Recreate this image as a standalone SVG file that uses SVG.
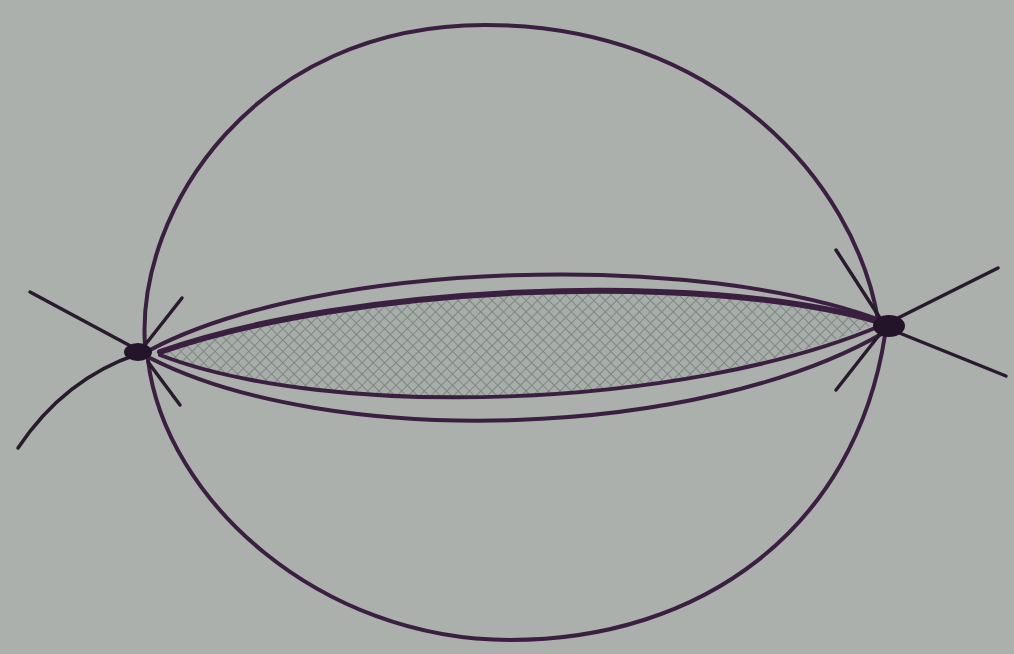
<svg xmlns="http://www.w3.org/2000/svg" width="1014" height="654" viewBox="0 0 1014 654">
<defs>
<pattern id="hatch" width="8" height="8" patternUnits="userSpaceOnUse" patternTransform="rotate(45)">
<rect width="8" height="8" fill="#a7ada9"/>
<path d="M0,0H8M0,0V8" stroke="#7f8783" stroke-width="2"/>
</pattern>
<style>
.l{fill:none;stroke:#3b1f40;stroke-width:4;stroke-linecap:round}
.r{fill:none;stroke:#2a1a2e;stroke-width:3.5;stroke-linecap:round}
</style>
</defs>
<rect width="1014" height="654" fill="#abb0ac"/>
<g id="connectors">
<path class="l" d="M145,345 C136,210 255,25 485,25 C715,25 855,180 878,320"/>
<path class="l" d="M148,360 C165,500 320,640 510,640 C700,640 855,530 885,335"/>
<path class="l" d="M150,350 C320,260 700,250 885,322"/>
<path class="l" d="M150,358 C330,450 700,440 885,332"/>
<path d="M160,352 C350,285 700,270 880,322 C680,410 330,420 160,355 Z" fill="url(#hatch)" stroke="none"/>
<path class="l" style="stroke-width:6" d="M160,352 C350,285 700,270 880,322"/>
<path class="l" d="M160,355 C330,420 680,410 880,326"/>
</g>
<g id="left-pole">
<path class="r" d="M138,350 L30,292"/>
<path class="r" d="M138,354 C90,370 50,400 18,448"/>
<path class="r" d="M145,345 L182,298"/>
<path class="r" d="M148,362 L180,405"/>
<ellipse cx="138" cy="352" rx="14" ry="9" fill="#24142a"/>
</g>
<g id="right-pole">
<path class="r" d="M890,322 L998,268"/>
<path class="r" d="M892,330 L1006,376"/>
<path class="r" d="M880,318 L836,250"/>
<path class="r" d="M880,334 L836,390"/>
<ellipse cx="889" cy="326" rx="16" ry="11" fill="#24142a"/>
</g>
</svg>
